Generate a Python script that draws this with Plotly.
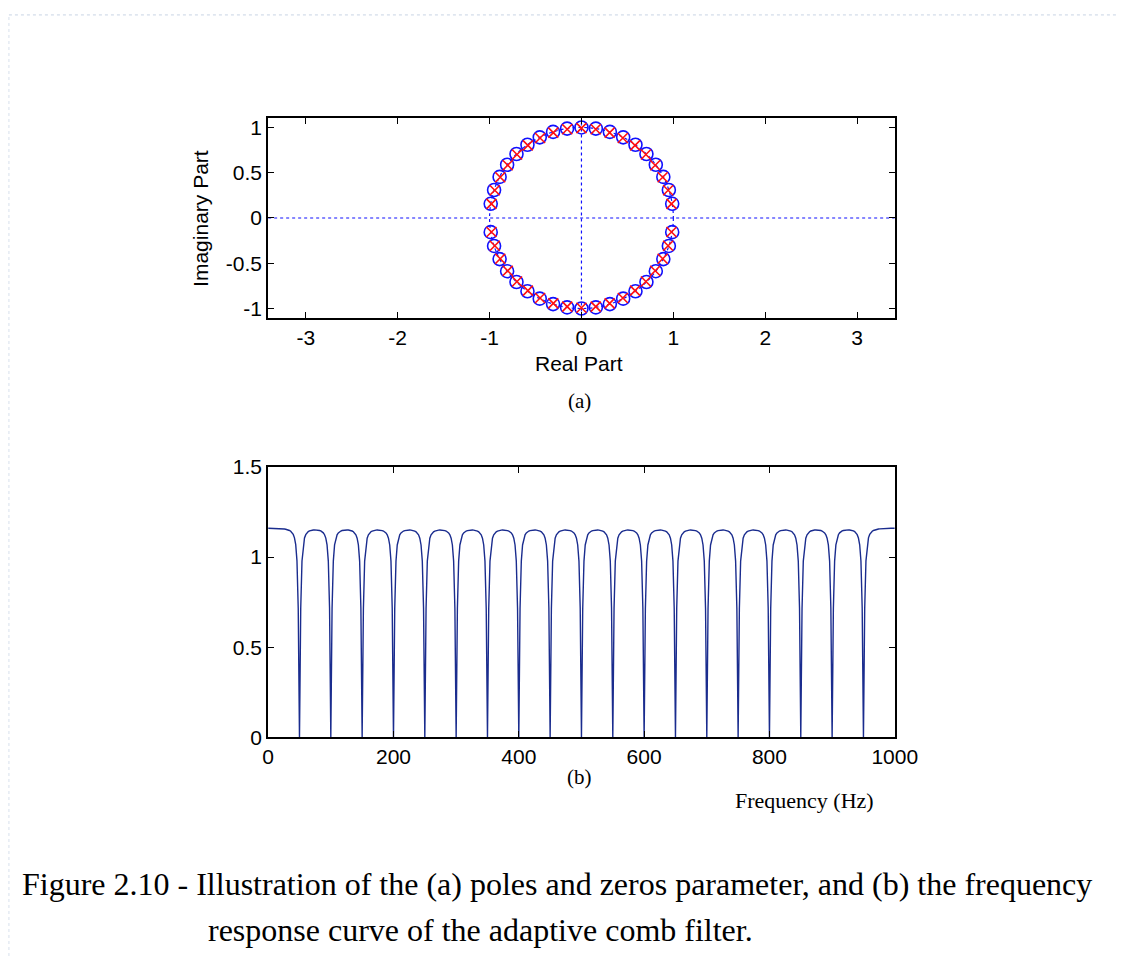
import numpy as np
import plotly.graph_objects as go

W, H = 1139, 967

# Upper-half zero positions of the comb filter (degrees on the unit circle);
# the lower half are the complex conjugates.
zero_angles_deg = [9, 18, 27, 36, 45, 54, 63, 72, 81, 90,
                   99, 108, 117, 126, 135, 144, 153, 162, 171]
zero_radius = 1.0
pole_radius = 0.992
fs_hz = 2000.0

x_ticks_a = [-3, -2, -1, 0, 1, 2, 3]
y_ticks_a = [-1, -0.5, 0, 0.5, 1]
x_ticks_b = [0, 200, 400, 600, 800, 1000]
y_ticks_b = [0, 0.5, 1, 1.5]

caption_line1 = "Figure 2.10 - Illustration of the (a) poles and zeros parameter, and (b) the frequency"
caption_line2 = "response curve of the adaptive comb filter."

# complex zeros / poles (upper half plus conjugates)
ang = np.deg2rad(np.array(zero_angles_deg, dtype=float))
zeros = zero_radius * np.exp(1j * ang)
zeros = np.concatenate([zeros, np.conj(zeros)])
poles = pole_radius * np.exp(1j * ang)
poles = np.concatenate([poles, np.conj(poles)])

# magnitude response of the filter on a 2 Hz grid
freq_hz = np.arange(0, 1001, 2, dtype=float)
zz = np.exp(1j * 2 * np.pi * freq_hz / fs_hz)
num = np.prod(zz[:, None] - zeros[None, :], axis=1)
den = np.prod(zz[:, None] - poles[None, :], axis=1)
mag = np.abs(num / den)


def px_x(p):
    return p / W


def px_y(p):
    return 1 - p / H


fig = go.Figure()

# (a) pole-zero plot
fig.add_trace(go.Scatter(
    x=zeros.real, y=zeros.imag, mode="markers",
    marker=dict(symbol="circle-open", size=13, color="#1010ff", line=dict(width=1.6)),
    xaxis="x", yaxis="y", showlegend=False, hoverinfo="skip"))
fig.add_trace(go.Scatter(
    x=poles.real, y=poles.imag, mode="markers",
    marker=dict(symbol="x-thin-open", size=10, color="#ff1010", line=dict(width=1.6, color="#ff1010")),
    xaxis="x", yaxis="y", showlegend=False, hoverinfo="skip"))

# (b) frequency response
fig.add_trace(go.Scatter(
    x=freq_hz, y=mag, mode="lines",
    line=dict(color="#1a2c8e", width=1.4),
    xaxis="x2", yaxis="y2", showlegend=False, hoverinfo="skip"))

axis_common = dict(
    showline=True, linecolor="black", linewidth=1.8, mirror="ticks",
    ticks="inside", ticklen=6, tickwidth=1.3, tickcolor="black",
    showgrid=False, zeroline=False,
    tickfont=dict(family="Liberation Sans, Arial, sans-serif", size=21, color="black"),
)

xa_dom = [px_x(269), px_x(912)]
fig.update_layout(
    width=W, height=H,
    margin=dict(l=0, r=0, t=0, b=0),
    paper_bgcolor="white", plot_bgcolor="white",
    xaxis=dict(domain=xa_dom, range=[-3.41, 3.41], tickvals=x_ticks_a,
               ticktext=[str(v) for v in x_ticks_a], anchor="y", **axis_common),
    yaxis=dict(domain=[px_y(313), px_y(109)], range=[-1.1, 1.1], tickvals=y_ticks_a,
               ticktext=[f"{v:g}" for v in y_ticks_a], anchor="x", **axis_common),
    xaxis2=dict(domain=xa_dom, range=[0, 1000], tickvals=x_ticks_b,
                ticktext=[str(v) for v in x_ticks_b], anchor="y2", **axis_common),
    yaxis2=dict(domain=[px_y(743), px_y(466)], range=[0, 1.5], tickvals=y_ticks_b,
                ticktext=[f"{v:g}" for v in y_ticks_b], anchor="x2", **axis_common),
)

dot = dict(color="#1010ff", width=1.2, dash="dot")
shapes = [
    dict(type="line", xref="x", yref="y", x0=-3.41, x1=3.41, y0=0, y1=0, line=dot, layer="below"),
    dict(type="line", xref="x", yref="y", x0=0, x1=0, y0=-1.1, y1=1.1, line=dot, layer="below"),
    dict(type="circle", xref="x", yref="y", x0=-1, x1=1, y0=-1, y1=1, line=dot, layer="below"),
    # faint dashed page frame
    dict(type="line", xref="paper", yref="paper", x0=px_x(3), x1=1, y0=px_y(3), y1=px_y(3),
         line=dict(color="#c8d4e4", width=1, dash="dot")),
    dict(type="line", xref="paper", yref="paper", x0=px_x(3), x1=px_x(3), y0=0, y1=px_y(3),
         line=dict(color="#d8e0ec", width=1, dash="dot")),
]
fig.update_layout(shapes=shapes)

sans = dict(family="Liberation Sans, Arial, sans-serif", size=21, color="black")
serif = dict(family="Liberation Serif, Times New Roman, serif", size=21, color="black")
serif_f = dict(family="Liberation Serif, Times New Roman, serif", size=22, color="black")
cap = dict(family="Liberation Serif, Times New Roman, serif", size=32, color="black")

ann = [
    dict(text="Imaginary Part", x=px_x(200), y=px_y(211), textangle=-90, font=sans),
    dict(text="Real Part", x=px_x(588), y=px_y(360), font=sans),
    dict(text="(a)", x=px_x(588), y=px_y(398), font=serif),
    dict(text="(b)", x=px_x(588), y=px_y(784), font=serif),
    dict(text="Frequency (Hz)", x=px_x(819), y=px_y(808), font=serif_f),
    dict(text=caption_line1, x=px_x(14), y=px_y(893), xanchor="left", font=cap),
    dict(text=caption_line2, x=px_x(205), y=px_y(940), xanchor="left", font=cap),
]
for a in ann:
    a.setdefault("xanchor", "center")
    a.update(xref="paper", yref="paper", yanchor="middle", showarrow=False)
fig.update_layout(annotations=ann)

# place the figure flush with the page corner
fig.write_html(
    "out.html",
    post_script="document.body.style.margin='0';document.body.style.overflow='hidden';",
)
